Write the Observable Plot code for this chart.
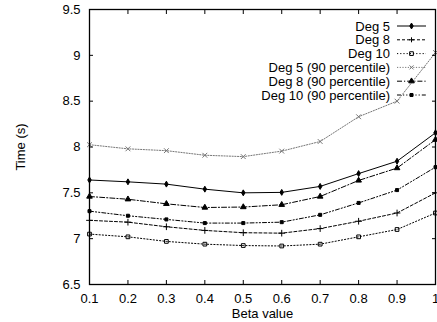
<!DOCTYPE html>
<html><head><meta charset="utf-8">
<script src="https://cdn.jsdelivr.net/npm/d3@7"></script>
<script src="https://cdn.jsdelivr.net/npm/@observablehq/plot@0.6"></script>
<style>body{margin:0;background:#fff}svg{display:block}</style>
</head><body><div id="chart"></div>
<script>
const beta = [0.1,0.2,0.3,0.4,0.5,0.6,0.7,0.8,0.9,1.0];
const deg5 = [7.64,7.62,7.595,7.54,7.50,7.505,7.57,7.71,7.845,8.155];
const deg8 = [7.20,7.18,7.13,7.09,7.065,7.06,7.11,7.19,7.28,7.50];
const deg10 = [7.05,7.02,6.97,6.94,6.925,6.92,6.94,7.02,7.10,7.28];
const deg5p90 = [8.025,7.98,7.96,7.91,7.895,7.955,8.06,8.33,8.50,9.03];
const deg8p90 = [7.46,7.43,7.38,7.34,7.345,7.37,7.46,7.635,7.77,8.08];
const deg10p90 = [7.30,7.25,7.21,7.17,7.17,7.18,7.26,7.39,7.53,7.78];
const seriesNames = ["Deg 5","Deg 8","Deg 10","Deg 5 (90 percentile)","Deg 8 (90 percentile)","Deg 10 (90 percentile)"];
const xTicks = [0.1,0.2,0.3,0.4,0.5,0.6,0.7,0.8,0.9,1];
const yTicks = [6.5,7,7.5,8,8.5,9,9.5];

const seriesValues = [deg5,deg8,deg10,deg5p90,deg8p90,deg10p90];
const styles = [
  {stroke:"#000", dash:null, symbol:"diamond", fill:"#000", r:1.8},
  {stroke:"#000", dash:"3,2", symbol:"plus", fill:"none", r:2.3},
  {stroke:"#000", dash:"1.2,2", symbol:"square", fill:"none", r:2.1},
  {stroke:"#777", dash:"1.2,1.5", symbol:"times", fill:"none", r:2.3},
  {stroke:"#000", dash:"5,2,1.2,2", symbol:"triangle", fill:"#000", r:2.1},
  {stroke:"#000", dash:"4,2,1.2,2,1.2,2", symbol:"square", fill:"#000", r:1.7}
];
const FONT = "'Liberation Sans', Arial, Helvetica, sans-serif";

const marks = [];
seriesValues.forEach((vals, i) => {
  const data = beta.map((b, j) => ({x: b, y: vals[j]}));
  const s = styles[i];
  marks.push(Plot.line(data, {x:"x", y:"y", stroke:s.stroke, strokeWidth:1, strokeDasharray:s.dash}));
  marks.push(Plot.dot(data, {x:"x", y:"y", symbol:s.symbol, r:s.r, stroke:s.stroke, fill:s.fill, strokeWidth:1}));
});

const chart = Plot.plot({
  width: 437, height: 322,
  marginLeft: 89, marginRight: 2, marginTop: 9, marginBottom: 38,
  style: {fontFamily: FONT, fontSize: "13px", color: "#000", background: "#fff", overflow: "visible"},
  x: {domain: [0.1, 1]},
  y: {domain: [6.5, 9.5]},
  marks: [
    ...marks,
    Plot.axisX(xTicks, {anchor:"bottom", tickSize:0, tickPadding:9, tickFormat: d => String(d), label:"Beta value", labelAnchor:"center", labelArrow:"none", labelOffset:33, fontSize:13}),
    Plot.axisX(xTicks, {anchor:"bottom", tickSize:-4, tickFormat: () => "", label:null}),
    Plot.axisX(xTicks, {anchor:"top", tickSize:-4, tickFormat: () => "", label:null}),
    Plot.axisY(yTicks, {anchor:"left", tickSize:0, tickPadding:9, tickFormat: d => String(d), label:"Time (s)", labelAnchor:"center", labelArrow:"none", labelOffset:74, fontSize:13}),
    Plot.axisY(yTicks, {anchor:"left", tickSize:-4, tickFormat: () => "", label:null}),
    Plot.axisY(yTicks, {anchor:"right", tickSize:-4, tickFormat: () => "", label:null}),
    Plot.frame({stroke:"#000", strokeWidth:1.3})
  ]
});
document.getElementById("chart").appendChild(chart);

// legend
const svg = d3.select(chart);
const lg = svg.append("g").attr("font-family", FONT).attr("font-size", 13);
seriesNames.forEach((name, i) => {
  const y = 26 + i * 13.8;
  const s = styles[i];
  lg.append("text").attr("x", 390).attr("y", y).attr("dy", "0.35em").attr("text-anchor", "end").attr("fill", "#000").text(name);
  lg.append("line").attr("x1", 397).attr("x2", 426).attr("y1", y).attr("y2", y)
    .attr("stroke", s.stroke).attr("stroke-width", 1).attr("stroke-dasharray", s.dash);
  const g = lg.append("g").attr("transform", `translate(411.5,${y})`);
  if (s.symbol === "plus") {
    g.append("path").attr("d", "M-2.5,0H2.5M0,-2.5V2.5").attr("stroke", s.stroke).attr("fill", "none");
  } else if (s.symbol === "times") {
    g.append("path").attr("d", "M-2,-2L2,2M-2,2L2,-2").attr("stroke", s.stroke).attr("fill", "none");
  } else {
    const sym = {diamond: d3.symbolDiamond, square: d3.symbolSquare, triangle: d3.symbolTriangle}[s.symbol];
    g.append("path").attr("d", d3.symbol(sym, s.r * s.r * Math.PI)())
      .attr("stroke", s.stroke).attr("fill", s.fill).attr("stroke-width", 1);
  }
});
</script></body></html>
